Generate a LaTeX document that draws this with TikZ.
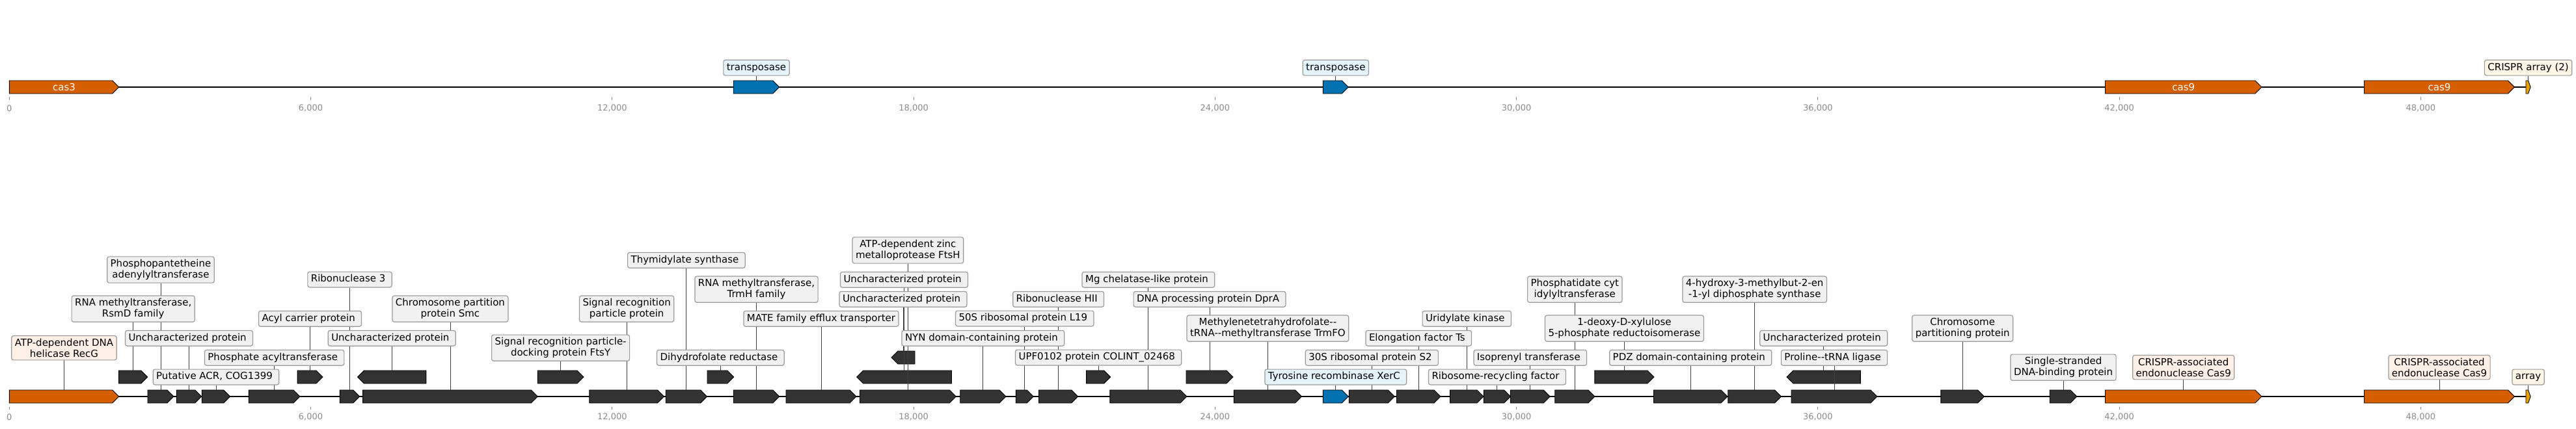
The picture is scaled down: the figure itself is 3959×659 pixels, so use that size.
\documentclass[tikz,border=0pt]{standalone}
\usepackage{fontspec}
\setmainfont{DejaVu Sans}
\usetikzlibrary{backgrounds}
\definecolor{cascol}{HTML}{D55E00}
\definecolor{tnpcol}{HTML}{0072B2}
\definecolor{arrcol}{HTML}{E69F00}
\definecolor{gencol}{HTML}{333333}
\definecolor{boxfill}{HTML}{F1F1F1}
\definecolor{boxline}{HTML}{9A9A9A}
\definecolor{casfill}{HTML}{FEF0E6}
\definecolor{tnpfill}{HTML}{E5F3FB}
\definecolor{arrfill}{HTML}{FDF5E6}
\definecolor{tickcol}{HTML}{8A8A8A}
\newcommand\tsp{\kern4.8pt}

\begin{document}
\begin{tikzpicture}[x=1pt, y=-1pt,
    box/.style={draw=boxline, fill=boxfill, rounded corners=3pt, line width=1.2pt,
        font=\fontsize{15}{16.7}\selectfont, inner xsep=5pt, inner ysep=4.5pt},
    lbl/.style={box, text height=11.2pt, text depth=3.6pt},
    lbltwo/.style={box, align=center},
    conn/.style={draw=black!75, line width=0.9pt},
    gene/.style={draw=black, line width=0.9pt},
    axis/.style={draw=black, line width=2.2pt},
    tick/.style={draw=tickcol, line width=0.8pt},
    ticklbl/.style={text=tickcol, font=\fontsize{13}{15}\selectfont}
]
\useasboundingbox (0,0) rectangle (3959,659);

\begin{scope}[on background layer]
    \draw[axis] (14.3,134) -- (3889,134);
    \draw[axis] (14.3,610) -- (3889,610);
    % genes: name/start/end/top/strand/colour
    \foreach \nm/\a/\b/\yt/\dir/\col in {
        cas3t/14.3/182.7/124/1/cascol, tnp1/1127.2/1197.8/124/1/tnpcol,
        tnp2/2033.3/2072.3/124/1/tnpcol, cas9t/3235.5/3475.9/124/1/cascol,
        cas9u/3633.5/3864.5/124/1/cascol, arrt/3882/3889.1/124/1/arrcol,
        recg/14.3/182.7/600/1/cascol, g2/227/267/600/1/gencol,
        g3/271.3/309.7/600/1/gencol, g4/310.3/353.7/600/1/gencol,
        g5/382.3/461/600/1/gencol, g6/522.3/552.7/600/1/gencol,
        g7/557.6/826.3/600/1/gencol, g8/905.8/1020.5/600/1/gencol,
        g9/1023.2/1086.6/600/1/gencol, g10/1127.2/1197.8/600/1/gencol,
        g11/1208/1316/600/1/gencol, g12/1321.5/1469.3/600/1/gencol,
        g13/1475.7/1546/600/1/gencol, g14/1561.3/1588.3/600/1/gencol,
        g15/1596.5/1656.7/600/1/gencol, g16/1705.8/1824/600/1/gencol,
        g17/1896.4/2000.4/600/1/gencol, xerc/2033.3/2072.3/600/1/tnpcol,
        g19/2073.3/2143.3/600/1/gencol, g20/2146.5/2214/600/1/gencol,
        g21/2228.5/2280/600/1/gencol, g22/2280.4/2321.4/600/1/gencol,
        g23/2321.4/2382.1/600/1/gencol, g24/2389.7/2450.9/600/1/gencol,
        g25/2541.5/2654.9/600/1/gencol, g26/2655.8/2737.5/600/1/gencol,
        g27/2753/2885/600/1/gencol, g28/2982.9/3049.5/600/1/gencol,
        g29/3150.2/3191.9/600/1/gencol, cas9a/3235.5/3475.9/600/1/cascol,
        cas9b/3633.5/3864.5/600/1/cascol, arr/3882/3889.1/600/1/arrcol,
        h1/182.6/226.8/570/1/gencol, h2/457.1/496/570/1/gencol,
        h3/549.6/654.9/570/-1/gencol, h4/826.3/896.9/570/1/gencol,
        h5/1087/1127.7/570/1/gencol, h6/1316.7/1462.3/570/-1/gencol,
        h7/1669.6/1706.7/570/1/gencol, h8/1823/1895/570/1/gencol,
        h9/2450.9/2542/570/1/gencol, h10/2746/2859.3/570/-1/gencol,
        k1/1370/1406/540/-1/gencol}
    {
        \pgfmathsetmacro\tip{min(10,(\b-\a)/2)}
        \ifnum\dir=1
            \draw[gene, fill=\col] (\a,\yt) -- ({\b-\tip},\yt) -- (\b,{\yt+10})
                -- ({\b-\tip},{\yt+20}) -- (\a,{\yt+20}) -- cycle;
        \else
            \draw[gene, fill=\col] (\b,\yt) -- ({\a+\tip},\yt) -- (\a,{\yt+10})
                -- ({\a+\tip},{\yt+20}) -- (\b,{\yt+20}) -- cycle;
        \fi
        \coordinate (\nm) at ({(\a+\b)/2},\yt);
    }
\end{scope}

% axis ticks, every 6 kb
\foreach \v/\t in {0/0, 6/{6,000}, 12/{12,000}, 18/{18,000}, 24/{24,000},
        30/{30,000}, 36/{36,000}, 42/{42,000}, 48/{48,000}} {
    \pgfmathsetmacro\xx{14.3+\v*77.21}
    \draw[tick] (\xx,149) -- (\xx,154);
    \draw[tick] (\xx,626) -- (\xx,630);
    \node[ticklbl] (top\v) at (\xx,166.7) {\t};
    \node[ticklbl] (bot\v) at (\xx,641.7) {\t};
}

\node[text=white, font=\fontsize{15}{17}\selectfont] (ncas3) at (cas3t |- 0,134) {cas3};
\node[text=white, font=\fontsize{15}{17}\selectfont] (ncas9a) at (cas9t |- 0,134) {cas9};
\node[text=white, font=\fontsize{15}{17}\selectfont] (ncas9b) at (cas9u |- 0,134) {cas9};

\node[lbl, fill=tnpfill] (ltnp1) at (tnp1 |- 0,104.2) {transposase};
\node[lbl, fill=tnpfill] (ltnp2) at (tnp2 |- 0,104.2) {transposase};
\node[lbl, fill=arrfill] (larrt) at (arrt |- 0,104.2) {CRISPR array (2)};

\node[lbltwo, fill=casfill] (lrecg) at (recg |- 0,535.2) {ATP-dependent DNA\\helicase RecG};
\node[lbltwo] (lppat) at (g2 |- 0,415) {Phosphopantetheine\\adenylyltransferase};
\node[lbltwo] (lrsmd) at (h1 |- 0,475.2) {RNA methyltransferase,\\RsmD family};
\node[lbl] (lunc1) at (g3 |- 0,520.3) {Uncharacterized protein\tsp};
\node[lbl] (lacr) at (g4 |- 0,580) {Putative ACR, COG1399\tsp};
\node[lbl] (lpta) at (g5 |- 0,550.3) {Phosphate acyltransferase\tsp};
\node[lbl] (lacp) at (h2 |- 0,490.3) {Acyl carrier protein\tsp};
\node[lbl] (lrnc) at (g6 |- 0,430) {Ribonuclease 3\tsp};
\node[lbl] (lunc2) at (h3 |- 0,520.3) {Uncharacterized protein\tsp};
\node[lbltwo] (lsmc) at (g7 |- 0,475.2) {Chromosome partition\\protein Smc};
\node[lbltwo] (lftsy) at (h4 |- 0,535.2) {Signal recognition particle-\\docking protein FtsY};
\node[lbltwo] (lsrp) at (g8 |- 0,475.2) {Signal recognition\\particle protein};
\node[lbl] (lthy) at (g9 |- 0,400.3) {Thymidylate synthase\tsp};
\node[lbl] (ldhfr) at (h5 |- 0,550.3) {Dihydrofolate reductase\tsp};
\node[lbltwo] (ltrmh) at (g10 |- 0,445.2) {RNA methyltransferase,\\TrmH family};
\node[lbl] (lmate) at (g11 |- 0,490.3) {MATE family efflux transporter};
\node[lbltwo] (lftsh) at (g12 |- 0,385) {ATP-dependent zinc\\metalloprotease FtsH};
\node[lbl] (lunc3) at (h6 |- 0,430.3) {Uncharacterized protein\tsp};
\node[lbl] (lunc4) at (k1 |- 0,460.3) {Uncharacterized protein\tsp};
\node[lbl] (lnyn) at (g13 |- 0,520.3) {NYN domain-containing protein\tsp};
\node[lbl] (lrpl) at (g14 |- 0,490) {50S ribosomal protein L19\tsp};
\node[lbl] (lrnh) at (g15 |- 0,460.3) {Ribonuclease HII\tsp};
\node[lbl] (lupf) at (h7 |- 0,550) {UPF0102 protein COLINT\_02468\tsp};
\node[lbl] (lmgc) at (g16 |- 0,430.3) {Mg chelatase-like protein\tsp};
\node[lbl] (ldpra) at (h8 |- 0,460.3) {DNA processing protein DprA\tsp};
\node[lbltwo] (ltrmfo) at (g17 |- 0,505.2) {Methylenetetrahydrofolate-{}-\\tRNA-{}-methyltransferase TrmFO};
\node[lbl, fill=tnpfill] (lxerc) at (xerc |- 0,580) {Tyrosine recombinase XerC\tsp};
\node[lbl] (lrps) at (g19 |- 0,550.3) {30S ribosomal protein S2\tsp};
\node[lbl] (lts) at (g20 |- 0,520.3) {Elongation factor Ts\tsp};
\node[lbl] (lpyr) at (g21 |- 0,490.3) {Uridylate kinase\tsp};
\node[lbl] (lrrf) at (g22 |- 0,580) {Ribosome-recycling factor\tsp};
\node[lbl] (lipt) at (g23 |- 0,550.3) {Isoprenyl transferase\tsp};
\node[lbltwo] (lcds) at (g24 |- 0,445.2) {Phosphatidate cyt\\idylyltransferase};
\node[lbltwo] (ldxr) at (h9 |- 0,505.2) {1-deoxy-D-xylulose\\5-phosphate reductoisomerase};
\node[lbl] (lpdz) at (g25 |- 0,550.3) {PDZ domain-containing protein\tsp};
\node[lbltwo] (lispg) at (g26 |- 0,445.2) {4-hydroxy-3-methylbut-2-en\\-1-yl diphosphate synthase};
\node[lbl] (lunc5) at (h10 |- 0,520.3) {Uncharacterized protein\tsp};
\node[lbl] (lpro) at (g27 |- 0,550.3) {Proline-{}-tRNA ligase\tsp};
\node[lbltwo] (lpar) at (g28 |- 0,505.2) {Chromosome\\partitioning protein};
\node[lbltwo] (lssb) at (g29 |- 0,565.2) {Single-stranded\\DNA-binding protein};
\node[lbltwo, fill=casfill] (lcas9a) at (cas9a |- 0,565.2) {CRISPR-associated\\endonuclease Cas9};
\node[lbltwo, fill=casfill] (lcas9b) at (cas9b |- 0,565.2) {CRISPR-associated\\endonuclease Cas9};
\node[lbl, fill=arrfill] (larr) at (arr |- 0,580) {array};

\begin{scope}[on background layer]
    \foreach \l/\g in {ltnp1/tnp1, ltnp2/tnp2, larrt/arrt, lrecg/recg, lppat/g2,
            lrsmd/h1, lunc1/g3, lacr/g4, lpta/g5, lacp/h2, lrnc/g6, lunc2/h3,
            lsmc/g7, lftsy/h4, lsrp/g8, lthy/g9, ldhfr/h5, ltrmh/g10, lmate/g11,
            lftsh/g12, lunc3/h6, lunc4/k1, lnyn/g13, lrpl/g14, lrnh/g15, lupf/h7,
            lmgc/g16, ldpra/h8, ltrmfo/g17, lxerc/xerc, lrps/g19, lts/g20,
            lpyr/g21, lrrf/g22, lipt/g23, lcds/g24, ldxr/h9, lpdz/g25, lispg/g26,
            lunc5/h10, lpro/g27, lpar/g28, lssb/g29, lcas9a/cas9a, lcas9b/cas9b,
            larr/arr}
        \draw[conn] (\l) -- (\g);
\end{scope}
\end{tikzpicture}
\end{document}
